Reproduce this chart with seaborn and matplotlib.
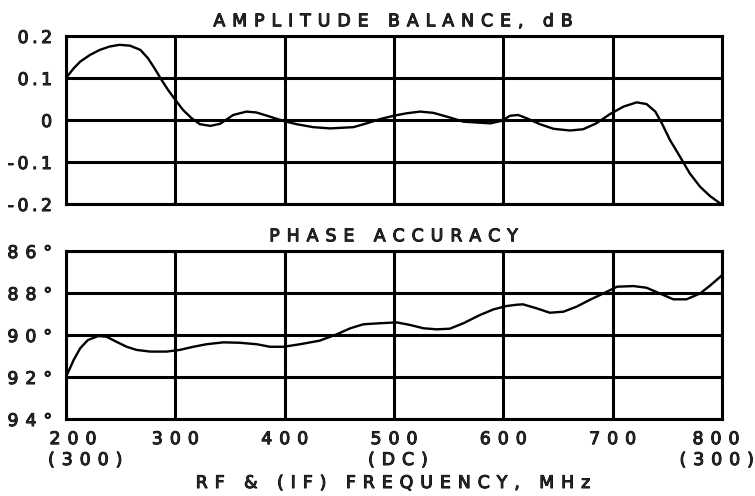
import matplotlib
matplotlib.use("Agg")
import matplotlib.pyplot as plt
import matplotlib.patheffects as pe
from matplotlib.transforms import ScaledTranslation
import seaborn as sns
import pandas as pd

# ---- data ----
amp_freq = [200, 207, 213, 222, 231, 240, 249, 258.5, 268, 275, 281, 287.5, 293.5,
            300, 307, 315, 322.5, 332, 341, 353, 365, 374, 386.5, 398.5, 411, 426,
            441.5, 463, 475, 487, 499.5, 511.5, 524, 536, 551, 563.5, 575.5, 588,
            598.5, 606, 613.5, 621.5, 633.5, 646, 661, 673, 685, 697.5, 710, 722,
            731, 739, 745, 752.5, 761.5, 770.5, 780, 789, 798, 800]
amp_db = [0.100, 0.123, 0.139, 0.155, 0.167, 0.175, 0.179, 0.177, 0.167, 0.147,
          0.123, 0.095, 0.071, 0.048, 0.024, 0.004, -0.010, -0.014, -0.009, 0.012,
          0.020, 0.018, 0.008, -0.002, -0.010, -0.017, -0.020, -0.017, -0.008,
          0.002, 0.010, 0.016, 0.020, 0.017, 0.006, -0.004, -0.006, -0.008, -0.002,
          0.010, 0.012, 0.004, -0.010, -0.021, -0.025, -0.022, -0.008, 0.014,
          0.032, 0.042, 0.038, 0.020, -0.008, -0.048, -0.087, -0.127, -0.159,
          -0.181, -0.198, -0.200]

ph_freq = [200, 207, 213, 220, 229.5, 237, 246, 255.5, 264.5, 277, 292, 304, 316.5,
           328.5, 344, 359, 374.5, 386.5, 399, 414, 432, 447.5, 460, 472, 487,
           502.5, 514.5, 527, 539, 551, 563.5, 578.5, 591, 603, 612, 618, 630.5,
           642.5, 655, 667, 679, 691.5, 704, 719, 731, 743, 755.5, 767.5, 780,
           789, 797.5, 800]
ph_deg = [92.0, 91.19, 90.63, 90.24, 90.05, 90.08, 90.32, 90.56, 90.71, 90.79,
          90.79, 90.71, 90.56, 90.44, 90.35, 90.37, 90.44, 90.56, 90.56, 90.44,
          90.27, 89.97, 89.68, 89.49, 89.44, 89.40, 89.52, 89.68, 89.73, 89.70,
          89.44, 89.05, 88.78, 88.62, 88.56, 88.54, 88.73, 88.94, 88.89, 88.65,
          88.33, 88.02, 87.70, 87.67, 87.75, 88.02, 88.30, 88.30, 88.02, 87.65,
          87.27, 87.15]

x_ticks = [200, 300, 400, 500, 600, 700, 800]
x_ticklabels = ["200", "300", "400", "500", "600", "700", "800"]
amp_ticks = [0.2, 0.1, 0, -0.1, -0.2]
amp_ticklabels = ["0.2", "0.1", "0", "-0.1", "-0.2"]
ph_ticks = [86, 88, 90, 92, 94]
ph_ticklabels = ["86°", "88°", "90°", "92°", "94°"]
if_labels = ["(300)", "(DC)", "(300)"]

title_amp = "AMPLITUDE BALANCE, dB"
title_ph = "PHASE ACCURACY"
x_title = "RF & (IF) FREQUENCY, MHz"

sns.set_theme(style="white")
plt.rcParams["font.family"] = ["DejaVu Sans"]


def spaced(s, gap="\u2009\u2009"):
    return gap.join(s)


FS = 12.5
FX = [pe.withStroke(linewidth=0.7, foreground="black")]
W, H = 755, 496
fig = plt.figure(figsize=(W / 100, H / 100), dpi=100)
fig.patch.set_facecolor("white")


def px(x0, y0, x1, y1):
    return [x0 / W, 1 - y1 / H, (x1 - x0) / W, (y1 - y0) / H]


ax1 = fig.add_axes(px(66, 36, 722, 204))
ax2 = fig.add_axes(px(66, 251, 722, 419))

df_amp = pd.DataFrame({"f": amp_freq, "v": amp_db})
df_ph = pd.DataFrame({"f": ph_freq, "v": ph_deg})

sns.lineplot(data=df_amp, x="f", y="v", ax=ax1, color="black", linewidth=1.7, sort=False)
sns.lineplot(data=df_ph, x="f", y="v", ax=ax2, color="black", linewidth=1.7, sort=False)

for ax in (ax1, ax2):
    ax.set_xlim(200, 800)
    ax.set_xticks(x_ticks)
    ax.grid(True, color="black", linewidth=2.2)
    ax.set_axisbelow(True)
    for sp in ax.spines.values():
        sp.set_color("black")
        sp.set_linewidth(2.2)
    ax.tick_params(length=0)
    ax.set_xlabel("")
    ax.set_ylabel("")
    ax.set_facecolor("white")

ax1.set_ylim(-0.2, 0.2)
ax1.set_yticks(amp_ticks)
ax1.set_yticklabels([spaced(t, "\u2009") for t in amp_ticklabels], fontsize=FS, path_effects=FX)
ax1.tick_params(axis="y", pad=10)
ax1.set_xticklabels([])
ax1.set_title(spaced(title_amp), fontsize=FS, pad=7, path_effects=FX)

ax2.set_ylim(94, 86)
ax2.set_yticks(ph_ticks)
ax2.set_yticklabels([spaced(t) for t in ph_ticklabels], fontsize=FS, path_effects=FX)
ax2.tick_params(axis="y", pad=10)
ax2.set_xticklabels([spaced(t) for t in x_ticklabels], fontsize=FS, path_effects=FX)
ax2.tick_params(axis="x", pad=8)
ax2.set_title(spaced(title_ph), fontsize=FS, pad=7, path_effects=FX)

# first / last x tick labels sit slightly inward, as in the reference
xl = ax2.get_xticklabels()
xl[0].set_transform(xl[0].get_transform() + ScaledTranslation(7 / 100, 0, fig.dpi_scale_trans))
xl[-1].set_transform(xl[-1].get_transform() + ScaledTranslation(-6 / 100, 0, fig.dpi_scale_trans))

kw = dict(fontsize=FS, va="center", path_effects=FX)
fig.text(48 / W, 1 - 460 / H, spaced(if_labels[0]), ha="left", **kw)
fig.text(398 / W, 1 - 460 / H, spaced(if_labels[1]), ha="center", **kw)
fig.text(754 / W, 1 - 460 / H, spaced(if_labels[2]), ha="right", **kw)
fig.text(394 / W, 1 - 483 / H, spaced(x_title), ha="center", **kw)

fig.savefig("out.png", dpi=100, facecolor="white")
